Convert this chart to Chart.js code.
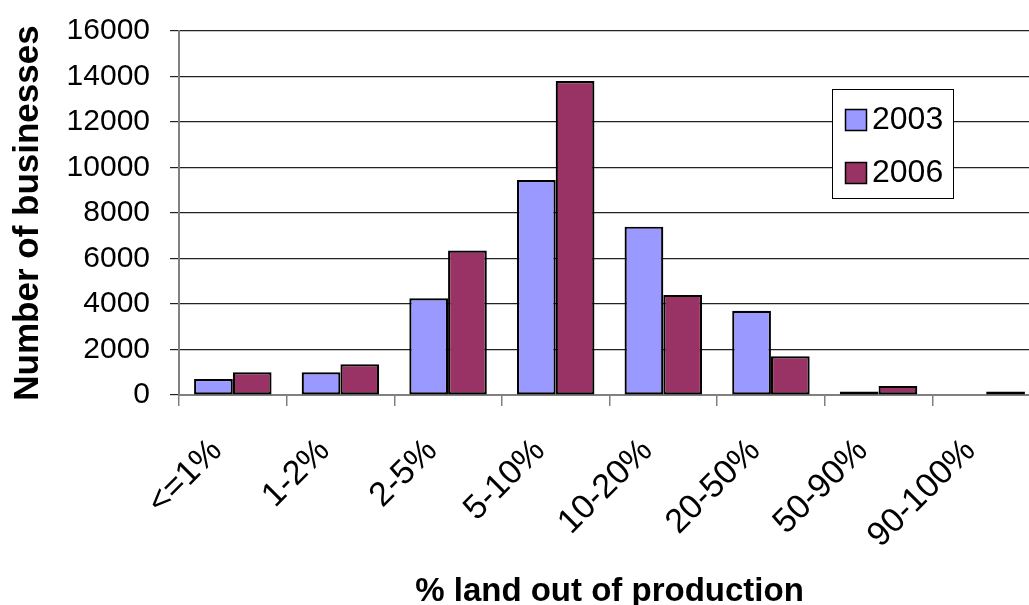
<!DOCTYPE html>
<html>
<head>
<meta charset="utf-8">
<script src="https://cdn.jsdelivr.net/npm/chart.js@4/dist/chart.umd.min.js"></script>
<style>
  html, body { margin: 0; padding: 0; background: #fff; overflow: hidden; }
  #wrap { width: 1045px; height: 605px; }
</style>
</head>
<body>
<div id="wrap"><canvas id="c" width="1045" height="605"></canvas></div>
<script>
// Share of land taken out of production, grouped into bands
const categories = ['<=1%', '1-2%', '2-5%', '5-10%', '10-20%', '20-50%', '50-90%', '90-100%'];
// Number of businesses in each band, by survey year
const series2003 = [700, 1000, 4250, 9450, 7400, 3700, 150, 0];
const series2006 = [1000, 1350, 6350, 13800, 4400, 1700, 400, 150];
const seriesLabels = ['2003', '2006'];
// Y axis range
const yMin = 0;
const yMax = 16000;
const yStep = 2000;

const FONT = "'Liberation Sans', Arial, Helvetica, sans-serif";

// Boxed legend drawn inside the plot area, top right
const boxLegend = {
  id: 'boxLegend',
  afterDraw(chart) {
    const ctx = chart.ctx;
    ctx.save();
    const bx = 832.5, by = 89.5, bw = 121, bh = 109;
    ctx.fillStyle = '#ffffff';
    ctx.fillRect(bx, by, bw, bh);
    ctx.strokeStyle = '#000000';
    ctx.lineWidth = 1;
    ctx.strokeRect(bx, by, bw, bh);
    chart.data.datasets.forEach((ds, i) => {
      const sy = 109.5 + i * 53;
      ctx.fillStyle = ds.backgroundColor;
      ctx.fillRect(845.5, sy, 21, 21);
      ctx.strokeStyle = '#000000';
      ctx.lineWidth = 1.5;
      ctx.strokeRect(845.5, sy, 21, 21);
      ctx.fillStyle = '#000000';
      ctx.font = '32px ' + FONT;
      ctx.textBaseline = 'middle';
      ctx.textAlign = 'left';
      ctx.fillText(ds.label, 872, sy + 11);
    });
    ctx.restore();
  }
};

new Chart(document.getElementById('c'), {
  type: 'bar',
  data: {
    labels: categories,
    datasets: [
      {
        label: seriesLabels[0],
        data: series2003,
        backgroundColor: '#9999FF',
        borderColor: '#000000',
        borderWidth: 2.2,
        borderSkipped: false
      },
      {
        label: seriesLabels[1],
        data: series2006,
        backgroundColor: '#993366',
        borderColor: '#000000',
        borderWidth: 2.2,
        borderSkipped: false
      }
    ]
  },
  options: {
    responsive: false,
    animation: false,
    devicePixelRatio: 1,
    layout: { padding: { left: 0, top: 31, right: 5, bottom: 0 } },
    datasets: {
      bar: { categoryPercentage: 0.72, barPercentage: 1.0 }
    },
    plugins: {
      legend: { display: false },
      tooltip: { enabled: false }
    },
    scales: {
      x: {
        grid: {
          display: true,
          drawOnChartArea: false,
          drawTicks: true,
          tickLength: 11,
          color: '#808080',
          lineWidth: 1.5,
          offset: true
        },
        border: { display: true, color: '#808080', width: 2 },
        ticks: {
          color: '#000000',
          font: { family: FONT, size: 34 },
          minRotation: 45,
          maxRotation: 45,
          autoSkip: false,
          padding: 25,
          labelOffset: -16
        },
        title: {
          display: true,
          text: '% land out of production',
          color: '#000000',
          font: { family: FONT, size: 33, weight: 'bold' },
          padding: { top: 0, bottom: -7 }
        },
        afterFit(scale) {
          scale.height = 210;
          scale.paddingLeft = 0;
          scale.paddingRight = 0;
        }
      },
      y: {
        min: yMin,
        max: yMax,
        ticks: {
          stepSize: yStep,
          color: '#000000',
          font: { family: FONT, size: 30 },
          padding: 20,
          callback: (value) => String(value)
        },
        grid: {
          color: '#222222',
          lineWidth: 1.2,
          drawTicks: true,
          tickLength: 9
        },
        border: { display: true, color: '#808080', width: 2 },
        title: {
          display: true,
          text: 'Number of businesses',
          color: '#000000',
          font: { family: FONT, size: 35, weight: 'bold' },
          padding: { top: 7, bottom: 0 }
        },
        afterFit(scale) {
          scale.width = 179;
          scale.paddingTop = 0;
          scale.paddingBottom = 0;
        }
      }
    }
  },
  plugins: [boxLegend]
});
</script>
</body>
</html>
